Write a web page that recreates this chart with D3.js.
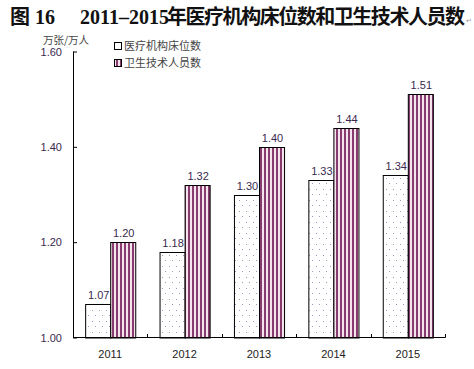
<!DOCTYPE html>
<html><head><meta charset="utf-8">
<script src="https://cdn.jsdelivr.net/npm/d3@7"></script>
<style>body{margin:0;background:#fff}svg{display:block}</style>
</head><body><svg id="c" width="474" height="369"></svg>
<script>
const years = ["2011","2012","2013","2014","2015"];
const beds = [1.07,1.18,1.30,1.33,1.34];
const staff = [1.20,1.32,1.40,1.44,1.51];
const yTicks = [1.00,1.20,1.40,1.60];
const seriesNames = ["医疗机构床位数","卫生技术人员数"];

const svg = d3.select("#c");
const defs = svg.append("defs");
const dots = defs.append("pattern").attr("id","dots").attr("patternUnits","userSpaceOnUse")
  .attr("width",7).attr("height",11);
dots.append("rect").attr("width",7).attr("height",11).attr("fill","#fff");
dots.append("rect").attr("x",1).attr("y",2).attr("width",1).attr("height",1).attr("fill","#9a9ac0");
dots.append("rect").attr("x",4).attr("y",7).attr("width",1).attr("height",1).attr("fill","#9a9ac0");
const stripes = defs.append("pattern").attr("id","stripes").attr("patternUnits","userSpaceOnUse")
  .attr("width",4).attr("height",4);
stripes.append("rect").attr("width",4).attr("height",4).attr("fill","#f3e4ee");
stripes.append("rect").attr("x",0).attr("width",2).attr("height",4).attr("fill","#873b6e");

const x0 = 73, x1 = 445;
const x = d3.scaleBand().domain(years).range([x0,x1]);
const xs = d3.scaleBand().domain([0,1]).range([0,x.bandwidth()]).paddingInner(0).paddingOuter(0.485);
const y = d3.scaleLinear().domain([1.0,1.6]).range([337.5,51.5]);

// title
const t = svg.append("text").attr("y",24).attr("font-weight","bold").attr("font-size",20)
  .attr("font-family","'Liberation Serif','Noto Sans CJK SC',serif").attr("fill","#111");
t.append("tspan").attr("x",10).text("图 16");
t.append("tspan").attr("x",80).text("2011–2015");
t.append("tspan").attr("x",167).attr("font-family","'Noto Sans CJK SC',sans-serif").attr("font-size",20)
  .attr("textLength",298).text("年医疗机构床位数和卫生技术人员数");
svg.append("text").attr("x",466).attr("y",23).attr("font-size",7).attr("fill","#999").text("↵");

// unit label
svg.append("text").attr("x",43).attr("y",43.5).attr("font-size",10.5)
  .attr("font-family","'Noto Sans CJK SC',sans-serif").attr("fill","#444").text("万张/万人");

// bars
const g = svg.append("g");
years.forEach((yr,i)=>{
  [beds[i],staff[i]].forEach((v,k)=>{
    const bx = x(yr)+xs(k);
    g.append("rect").attr("x",bx+0.5).attr("y",Math.round(y(v))+0.5)
      .attr("width",xs.bandwidth()).attr("height",y(1.0)-Math.round(y(v)))
      .attr("fill",k===0?"url(#dots)":"url(#stripes)").attr("stroke","#000").attr("stroke-width",1);
    g.append("text").attr("x",bx+xs.bandwidth()/2+1).attr("y",y(v)-5).attr("text-anchor","middle")
      .attr("font-size",11).attr("font-family","'Liberation Sans',Arial,sans-serif")
      .attr("fill","#3a2a50").text(v.toFixed(2));
  });
});

// y axis
const yAxis = d3.axisRight(y).tickValues(yTicks).tickSize(4).tickFormat("");
const ya = svg.append("g").attr("transform",`translate(${x0},0)`).call(yAxis);
ya.select(".domain").remove();
ya.append("line").attr("x1",0.5).attr("x2",0.5).attr("y1",y(1.6)).attr("y2",y(1.0)+0.5).attr("stroke","#000");
ya.selectAll(".tick line").attr("stroke","#000");
yTicks.forEach(v=>{
  svg.append("text").attr("x",62).attr("y",y(v)+4).attr("text-anchor","end")
    .attr("font-size",11).attr("font-family","'Liberation Sans',Arial,sans-serif")
    .attr("fill","#3a2a50").text(v.toFixed(2));
});

// x axis
const xa = svg.append("g");
xa.append("line").attr("x1",x0).attr("x2",x1+0.5).attr("y1",337.5).attr("y2",337.5).attr("stroke","#000");
years.forEach(yr=>{
  const bx = x(yr)+x.bandwidth();
  xa.append("line").attr("x1",Math.round(bx)+0.5).attr("x2",Math.round(bx)+0.5).attr("y1",334).attr("y2",337.5).attr("stroke","#000");
  xa.append("text").attr("x",x(yr)+x.bandwidth()/2).attr("y",358).attr("text-anchor","middle")
    .attr("font-size",11).attr("font-family","'Liberation Sans',Arial,sans-serif")
    .attr("fill","#222").text(yr);
});

// legend
const lg = svg.append("g");
seriesNames.forEach((n,i)=>{
  const ly = 42 + i*17;
  lg.append("rect").attr("x",114.5).attr("y",ly+0.5).attr("width",7).attr("height",7)
    .attr("fill",i===0?"#fff":"url(#stripes)").attr("stroke","#000");
  lg.append("text").attr("x",124).attr("y",ly+8).attr("font-size",11)
    .attr("font-family","'Noto Sans CJK SC',sans-serif").attr("fill","#444").text(n);
});
</script></body></html>
